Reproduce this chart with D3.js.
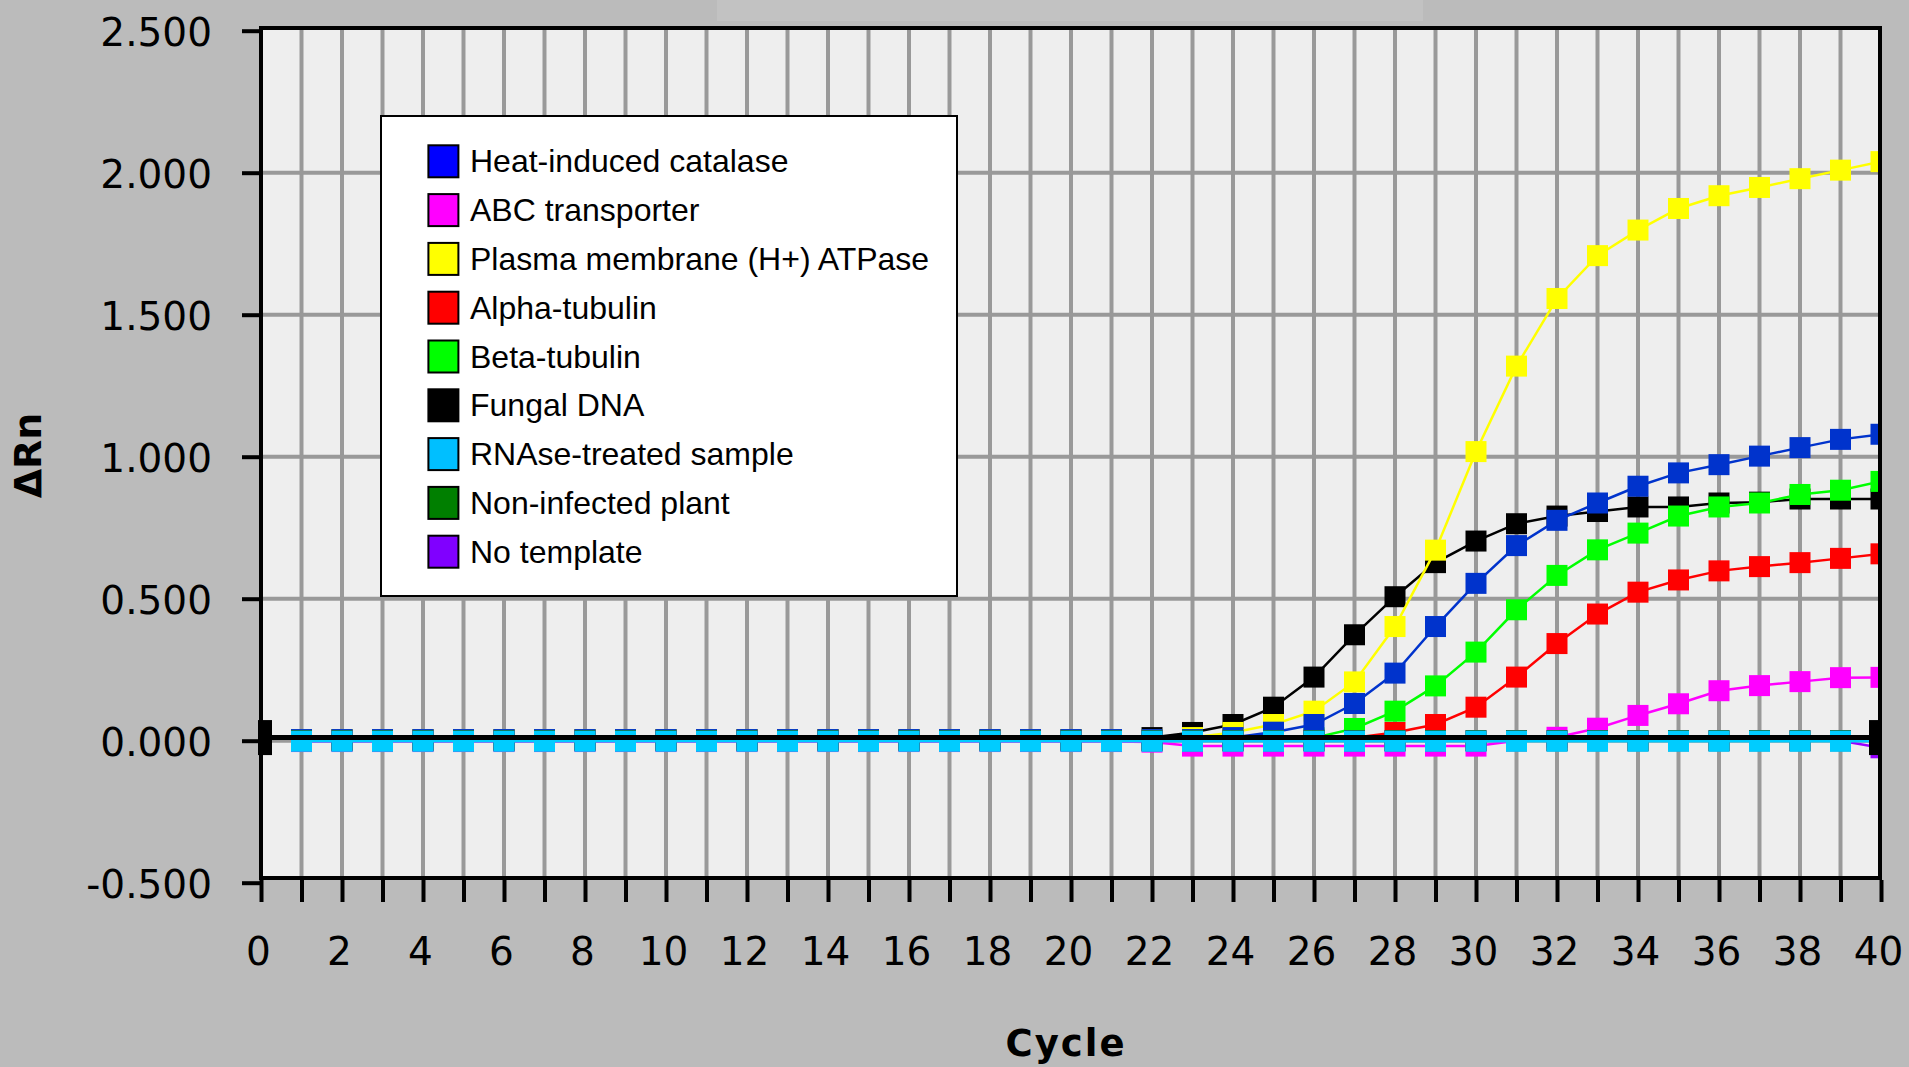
<!DOCTYPE html>
<html>

<head>
    <meta charset="utf-8">
    <style>
        body {
            margin: 0;
            background: #bbbbbb;
        }

        svg {
            display: block;
        }

        .axis .domain {
            display: none;
        }

        .axis .tick line {
            stroke: #000;
            stroke-width: 4px;
        }

        .axis .tick text {
            font-family: 'DejaVu Sans', sans-serif;
            font-size: 39px;
            fill: #000;
        }

        .grid line {
            stroke: #999999;
            stroke-width: 4px;
        }

        .title {
            font-family: 'DejaVu Sans', sans-serif;
            font-weight: bold;
            fill: #000;
        }

        .legend text {
            font-family: 'Liberation Sans', Arial, sans-serif;
            font-size: 32px;
            fill: #000;
        }
    </style>
</head>

<body>
    <svg width="1909" height="1067"></svg>

    <script src="https://d3js.org/d3.v7.min.js"></script>

    <script>
        // ---- data ----
        const cycles = [1, 2, 3, 4, 5, 6, 7, 8, 9, 10, 11, 12, 13, 14, 15, 16, 17, 18, 19, 20,
            21, 22, 23, 24, 25, 26, 27, 28, 29, 30, 31, 32, 33, 34, 35, 36, 37, 38, 39, 40]

        const xTicks = [0].concat(cycles)
        const xLabels = ["0", "2", "4", "6", "8", "10", "12", "14", "16", "18", "20",
            "22", "24", "26", "28", "30", "32", "34", "36", "38", "40"]

        const yTicks = [-0.5, 0, 0.5, 1, 1.5, 2, 2.5]
        const yLabels = ["-0.500", "0.000", "0.500", "1.000", "1.500", "2.000", "2.500"]

        const seriesNames = [
            "Heat-induced catalase",
            "ABC transporter",
            "Plasma membrane (H+) ATPase",
            "Alpha-tubulin",
            "Beta-tubulin",
            "Fungal DNA",
            "RNAse-treated sample",
            "Non-infected plant",
            "No template"]

        const legendColors = ["#0000ff", "#ff00ff", "#ffff00", "#ff0000", "#00ff00", "#000000", "#00bfff", "#007f00", "#8000ff"]
        const lineColors = ["#0033cc", "#ff00ff", "#ffff00", "#ff0000", "#00ff00", "#000000", "#00ccff", "#007700", "#9900ff"]

        const catalase = [0.004, 0.004, 0.004, 0.004, 0.004, 0.004, 0.004, 0.004, 0.004, 0.004,
            0.004, 0.004, 0.004, 0.004, 0.004, 0.004, 0.004, 0.004, 0.004, 0.004,
            0.004, 0.004, 0.004, 0.011, 0.030, 0.057, 0.131, 0.238, 0.402, 0.554,
            0.687, 0.776, 0.837, 0.896, 0.943, 0.972, 1.002, 1.032, 1.061, 1.079]

        const abcTransporter = [-0.003, -0.003, -0.003, -0.003, -0.003, -0.003, -0.003, -0.003, -0.003, -0.003,
            -0.003, -0.003, -0.003, -0.003, -0.003, -0.003, -0.003, -0.003, -0.003, -0.003,
            -0.003, -0.005, -0.019, -0.019, -0.019, -0.019, -0.019, -0.019, -0.019, -0.019,
            0.000, 0.012, 0.044, 0.089, 0.130, 0.176, 0.194, 0.208, 0.222, 0.223]

        const atpase = [0.003, 0.003, 0.003, 0.003, 0.003, 0.003, 0.003, 0.003, 0.003, 0.003,
            0.003, 0.003, 0.003, 0.003, 0.003, 0.003, 0.003, 0.003, 0.003, 0.003,
            0.003, 0.004, 0.011, 0.029, 0.057, 0.104, 0.207, 0.402, 0.671, 1.018,
            1.319, 1.557, 1.708, 1.798, 1.874, 1.919, 1.948, 1.979, 2.009, 2.039]

        const alphaTubulin = [0.003, 0.003, 0.003, 0.003, 0.003, 0.003, 0.003, 0.003, 0.003, 0.003,
            0.003, 0.003, 0.003, 0.003, 0.003, 0.003, 0.003, 0.003, 0.003, 0.003,
            0.003, 0.003, 0.003, 0.003, 0.003, 0.003, 0.010, 0.029, 0.057, 0.118,
            0.224, 0.342, 0.446, 0.523, 0.566, 0.598, 0.613, 0.627, 0.642, 0.658]

        const betaTubulin = [0.003, 0.003, 0.003, 0.003, 0.003, 0.003, 0.003, 0.003, 0.003, 0.003,
            0.003, 0.003, 0.003, 0.003, 0.003, 0.003, 0.003, 0.003, 0.003, 0.003,
            0.003, 0.003, 0.003, 0.003, 0.003, 0.010, 0.043, 0.104, 0.193, 0.312,
            0.461, 0.582, 0.672, 0.731, 0.791, 0.823, 0.837, 0.867, 0.882, 0.913]

        const fungalDNA = [0.004, 0.004, 0.004, 0.004, 0.004, 0.004, 0.004, 0.004, 0.004, 0.004,
            0.004, 0.004, 0.004, 0.004, 0.004, 0.004, 0.004, 0.004, 0.004, 0.004,
            0.004, 0.011, 0.029, 0.057, 0.118, 0.224, 0.373, 0.507, 0.627, 0.703,
            0.764, 0.791, 0.807, 0.823, 0.823, 0.837, 0.840, 0.851, 0.851, 0.851]

        const rnaseTreated = [-0.002, -0.002, -0.002, -0.002, -0.002, -0.002, -0.002, -0.002, -0.002, -0.002,
            -0.002, -0.002, -0.002, -0.002, -0.002, -0.002, -0.002, -0.002, -0.002, -0.002,
            -0.002, -0.002, -0.002, -0.002, -0.002, -0.002, -0.002, -0.002, -0.002, -0.002,
            -0.002, -0.002, -0.002, -0.002, -0.002, -0.002, -0.002, -0.002, -0.002, -0.002]

        const nonInfected = [0.000, 0.000, 0.000, 0.000, 0.000, 0.000, 0.000, 0.000, 0.000, 0.000,
            0.000, 0.000, 0.000, 0.000, 0.000, 0.000, 0.000, 0.000, 0.000, 0.000,
            0.000, 0.000, 0.000, 0.000, 0.000, 0.000, 0.000, 0.000, 0.000, 0.000,
            0.000, 0.000, 0.000, 0.000, 0.000, 0.000, 0.000, 0.000, 0.000, 0.000]

        const noTemplate = [0.000, 0.000, 0.000, 0.000, 0.000, 0.000, 0.000, 0.000, 0.000, 0.000,
            0.000, 0.000, 0.000, 0.000, 0.000, 0.000, 0.000, 0.000, 0.000, 0.000,
            0.000, 0.000, 0.000, 0.000, 0.000, 0.000, 0.000, 0.000, 0.000, 0.000,
            0.000, 0.000, 0.000, 0.000, 0.000, 0.000, 0.000, 0.000, 0.000, -0.025]

        const threshold = 0.011

        const seriesValues = [catalase, abcTransporter, atpase, alphaTubulin, betaTubulin,
            fungalDNA, rnaseTreated, nonInfected, noTemplate]

        // order the plot paints the series in (bottom first)
        const drawOrder = [5, 3, 4, 2, 1, 0, 8, 7, 6]

        // ---- chart ----
        let svg = d3.select("svg")

        let plot = { left: 261, right: 1880, top: 28, bottom: 878 }

        let x = d3.scaleLinear()
            .domain([0, 40])
            .range([261, 1881])

        let y = d3.scaleLinear()
            .domain([-0.5, 2.5])
            .range([882.7, 30.7])

        // slightly lighter strip at the very top of the window
        svg.append("rect")
            .attr("x", 717).attr("y", 0)
            .attr("width", 706).attr("height", 21)
            .attr("fill", "#c2c2c2")

        svg.append("rect")
            .attr("x", plot.left).attr("y", plot.top)
            .attr("width", plot.right - plot.left)
            .attr("height", plot.bottom - plot.top)
            .attr("fill", "#eeeeee")

        svg.append("defs").append("clipPath")
            .attr("id", "plot-clip")
            .append("rect")
            .attr("x", plot.left + 2).attr("y", plot.top + 2)
            .attr("width", plot.right - plot.left - 4)
            .attr("height", plot.bottom - plot.top - 4)

        let grid = svg.append("g").attr("class", "grid")

        grid.selectAll(".vgrid")
            .data(cycles.filter(c => c < 40))
            .join("line")
            .attr("x1", d => x(d)).attr("x2", d => x(d))
            .attr("y1", plot.top).attr("y2", plot.bottom)

        grid.selectAll(".hgrid")
            .data(yTicks.filter(v => v > -0.5 && v < 2.5))
            .join("line")
            .attr("x1", plot.left).attr("x2", plot.right)
            .attr("y1", d => y(d)).attr("y2", d => y(d))

        let line = d3.line()
            .x((d, i) => x(cycles[i]))
            .y(d => y(d))

        let marks = svg.append("g").attr("clip-path", "url(#plot-clip)")

        drawOrder.forEach(function (k) {
            let g = marks.append("g")
            g.append("path")
                .attr("d", line(seriesValues[k]))
                .attr("fill", "none")
                .attr("stroke", lineColors[k])
                .attr("stroke-width", 2.5)

            g.selectAll("rect")
                .data(seriesValues[k])
                .join("rect")
                .attr("x", (d, i) => x(cycles[i]) - 10.5)
                .attr("y", d => y(d) - 10.5)
                .attr("width", 21)
                .attr("height", 21)
                .attr("fill", lineColors[k])
        })

        // threshold bar with its two handles
        marks.append("line")
            .attr("x1", x(0)).attr("x2", x(40))
            .attr("y1", y(threshold)).attr("y2", y(threshold))
            .attr("stroke", "#000")
            .attr("stroke-width", 5)

        svg.append("rect")
            .attr("x", x(0) - 3).attr("y", y(threshold) - 17.5)
            .attr("width", 14).attr("height", 35)
            .attr("fill", "#000")

        svg.append("rect")
            .attr("x", x(40) - 12).attr("y", y(threshold) - 17.5)
            .attr("width", 9).attr("height", 35)
            .attr("fill", "#000")

        // frame
        let frame = svg.append("g")
            .attr("stroke", "#000")
            .attr("stroke-width", 4)
        frame.append("line").attr("x1", plot.left).attr("x2", plot.left).attr("y1", plot.top - 2).attr("y2", plot.bottom + 2)
        frame.append("line").attr("x1", plot.right).attr("x2", plot.right).attr("y1", plot.top - 2).attr("y2", plot.bottom + 2)
        frame.append("line").attr("x1", plot.left - 2).attr("x2", plot.right + 2).attr("y1", plot.top).attr("y2", plot.top)
        frame.append("line").attr("x1", plot.left - 2).attr("x2", plot.right + 2).attr("y1", plot.bottom).attr("y2", plot.bottom)

        // axes
        let yAxis = d3.axisLeft(y)
            .tickValues(yTicks)
            .tickSize(18)
            .tickPadding(30)
            .tickFormat((d, i) => yLabels[i])

        svg.append("g")
            .attr("class", "y axis")
            .attr("transform", "translate(260,0)")
            .call(yAxis)
            .selectAll("text")
            .attr("dy", "0.37em")

        let xAxis = d3.axisBottom(x)
            .tickValues(xTicks)
            .tickSize(22)
            .tickFormat(d => d % 2 === 0 ? xLabels[d / 2] : "")

        svg.append("g")
            .attr("class", "x axis")
            .attr("transform", "translate(0,880)")
            .call(xAxis)
            .selectAll("text")
            .attr("y", 85)
            .attr("dy", 0)
            .attr("x", -3)

        // titles
        svg.append("text")
            .attr("class", "title")
            .attr("x", 1066).attr("y", 1056)
            .attr("text-anchor", "middle")
            .style("font-size", "37px")
            .style("letter-spacing", "2px")
            .text("Cycle")

        svg.append("text")
            .attr("class", "title")
            .attr("transform", "translate(41,455.5) rotate(-90)")
            .attr("text-anchor", "middle")
            .style("font-size", "38px")
            .text("ΔRn")

        // legend
        let legend = svg.append("g").attr("class", "legend")

        legend.append("rect")
            .attr("x", 381).attr("y", 116)
            .attr("width", 576).attr("height", 480)
            .attr("fill", "#ffffff")
            .attr("stroke", "#000")
            .attr("stroke-width", 2)

        let rows = legend.selectAll(".row")
            .data(seriesNames)
            .join("g")
            .attr("transform", (d, i) => `translate(0, ${161.3 + 48.8 * i})`)

        rows.append("rect")
            .attr("x", 428.4).attr("y", -16)
            .attr("width", 30).attr("height", 32)
            .attr("fill", (d, i) => legendColors[i])
            .attr("stroke", "#000")
            .attr("stroke-width", 2)

        rows.append("text")
            .attr("x", 470).attr("y", 11)
            .text(d => d)
    </script>
</body>

</html>
